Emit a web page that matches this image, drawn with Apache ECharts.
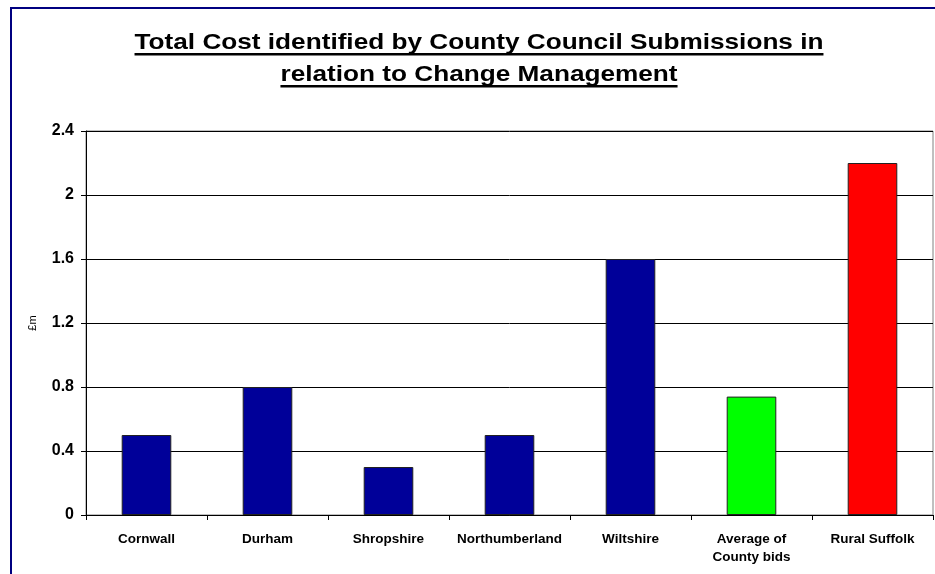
<!DOCTYPE html>
<html>
<head>
<meta charset="utf-8">
<script src="https://cdn.jsdelivr.net/npm/echarts@6/dist/echarts.min.js"></script>
<style>
  html, body { margin: 0; padding: 0; background: #fff; }
  #chart { width: 935px; height: 574px; }
</style>
</head>
<body>
<div id="chart"></div>
<script>
// Council submissions and their total change-management cost (£m)
const categories = ['Cornwall', 'Durham', 'Shropshire', 'Northumberland', 'Wiltshire', 'Average of\nCounty bids', 'Rural Suffolk'];
const costs = [0.5, 0.8, 0.3, 0.5, 1.6, 0.74, 2.2];
const barColors = ['#000099', '#000099', '#000099', '#000099', '#000099', '#00FF00', '#FF0000'];
const yTicks = [0, 0.4, 0.8, 1.2, 1.6, 2, 2.4];

const titleLines = ['Total Cost identified by County Council Submissions in', 'relation to Change Management'];
const titleFont = 'bold 22px "Liberation Sans", Arial, sans-serif';
const titleStretch = 1.19;

const chart = echarts.init(document.getElementById('chart'), null, { renderer: 'canvas' });

// measure title lines so the (stretched) text and its underline stay centred
const ctx = document.createElement('canvas').getContext('2d');
ctx.font = titleFont;
const cx = 479;
const titleGraphics = [];
titleLines.forEach((line, i) => {
  const w = ctx.measureText(line).width * titleStretch;
  const baseY = 51 + i * 32;
  titleGraphics.push({
    type: 'text', x: cx - w / 2, y: baseY - 19, scaleX: titleStretch,
    style: { text: line, font: titleFont, fill: '#000' }, silent: true
  });
  titleGraphics.push({
    type: 'rect', shape: { x: cx - w / 2, y: baseY + 2, width: w, height: 2.5 },
    style: { fill: '#000' }, silent: true
  });
});

chart.setOption({
  backgroundColor: '#fff',
  animation: false,
  grid: { left: 86, top: 131, right: 2, bottom: 59, show: true, borderColor: '#808080', borderWidth: 1, containLabel: false },
  xAxis: {
    type: 'category',
    data: categories,
    axisLine: { lineStyle: { color: '#000', width: 1 } },
    axisTick: { show: true, length: 5, lineStyle: { color: '#000' } },
    axisLabel: {
      color: '#000', fontFamily: '"Liberation Sans", Arial, sans-serif',
      fontWeight: 'bold', fontSize: 13.5, margin: 15, lineHeight: 18, interval: 0
    }
  },
  yAxis: {
    type: 'value',
    min: 0, max: 2.4, interval: 0.4,
    name: '£m',
    nameLocation: 'middle',
    nameGap: 48,
    nameRotate: 90,
    nameTextStyle: { color: '#000', fontFamily: '"Liberation Sans", Arial, sans-serif', fontSize: 11 },
    axisLine: { show: true, lineStyle: { color: '#000', width: 1 } },
    axisTick: { show: true, length: 5, lineStyle: { color: '#000' } },
    splitLine: { show: true, lineStyle: { color: '#000', width: 1 } },
    axisLabel: {
      color: '#000', fontFamily: '"Liberation Sans", Arial, sans-serif',
      fontWeight: 'bold', fontSize: 16, margin: 12,
      formatter: v => {
        const t = yTicks.find(k => Math.abs(k - v) < 1e-9);
        return t === undefined ? '' : String(t);
      }
    }
  },
  series: [{
    type: 'bar',
    data: costs.map((v, i) => ({ value: v, itemStyle: { color: barColors[i] } })),
    barWidth: '41%',
    itemStyle: { borderColor: '#222', borderWidth: 1 }
  }],
  graphic: [
    {
      type: 'rect', shape: { x: 11, y: 8, width: 940, height: 600 },
      style: { fill: null, stroke: '#000080', lineWidth: 2 }, silent: true, z: 100
    },
    ...titleGraphics
  ]
});
</script>
</body>
</html>
